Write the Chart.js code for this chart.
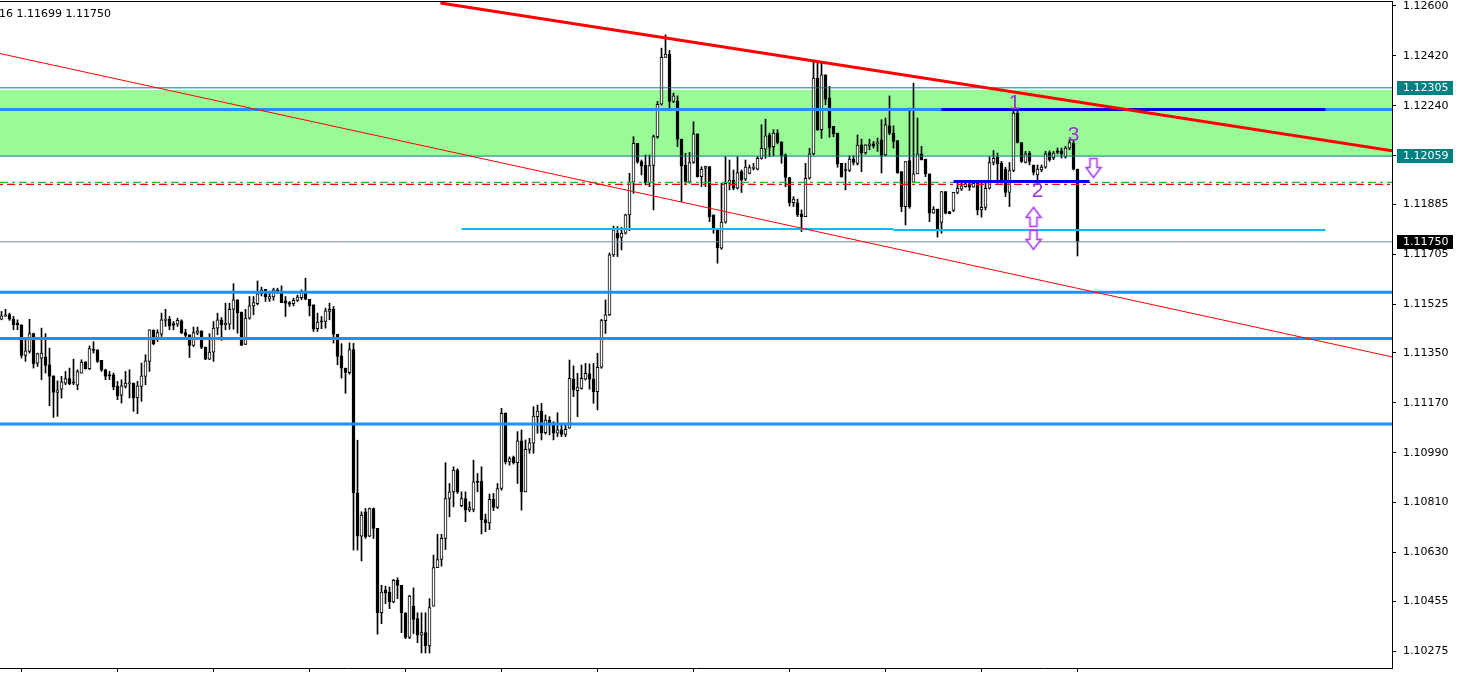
<!DOCTYPE html>
<html><head><meta charset="utf-8">
<script src="https://cdn.jsdelivr.net/npm/chart.js@4.4.1/dist/chart.umd.min.js"></script>
<style>html,body{margin:0;padding:0;background:#fff;overflow:hidden}canvas{display:block}</style>
</head><body>
<canvas id="c" width="1458" height="673"></canvas>
<script>
// ---------- DATA ----------
const headerText = '16 1.11699 1.11750';
const opens = [1.11471,1.11482,1.11488,1.11471,1.11457,1.11451,1.11341,1.11355,1.11419,1.11313,1.11331,1.11335,1.11307,1.11267,1.11207,1.11219,1.11241,1.11257,1.11245,1.11233,1.11277,1.11317,1.11293,1.11363,1.11361,1.11323,1.11289,1.11271,1.11271,1.11229,1.11197,1.11229,1.11239,1.11241,1.11187,1.11229,1.11265,1.11319,1.11431,1.11397,1.11417,1.11467,1.11471,1.11455,1.11453,1.11465,1.11423,1.11415,1.11377,1.11421,1.11429,1.11371,1.11327,1.11352,1.11439,1.11469,1.11451,1.11453,1.11507,1.11541,1.11497,1.11380,1.11475,1.11519,1.11527,1.11563,1.11579,1.11543,1.11551,1.11577,1.11570,1.11537,1.11531,1.11527,1.11539,1.11549,1.11569,1.11543,1.11523,1.11437,1.11465,1.11463,1.11499,1.11507,1.11417,1.11339,1.11295,1.11278,1.11362,1.10845,1.10689,1.10777,1.10689,1.10789,1.10717,1.10413,1.10494,1.10488,1.10452,1.10530,1.10512,1.10413,1.10324,1.10437,1.10392,1.10332,1.10342,1.10294,1.10437,1.10576,1.10605,1.10681,1.10825,1.10849,1.10927,1.10799,1.10825,1.10784,1.10786,1.10888,1.10888,1.10749,1.10737,1.10822,1.10793,1.10861,1.11132,1.10957,1.10973,1.10954,1.11033,1.10849,1.11002,1.11024,1.11120,1.11140,1.11062,1.11108,1.11096,1.11060,1.11072,1.11056,1.11078,1.11255,1.11214,1.11222,1.11255,1.11274,1.11255,1.11210,1.11298,1.11466,1.11487,1.11703,1.11781,1.11766,1.11781,1.11847,1.11965,1.12105,1.12039,1.12027,1.11963,1.12025,1.12129,1.12246,1.12415,1.12427,1.12256,1.12256,1.12120,1.12027,1.11965,1.12036,1.12139,1.11985,1.12015,1.12021,1.11847,1.11795,1.11727,1.11821,1.11961,1.11973,1.11943,1.12003,1.11976,1.11997,1.12015,1.12012,1.12051,1.12084,1.12135,1.12093,1.12142,1.12110,1.12062,1.11982,1.11891,1.11891,1.11849,1.11841,1.11979,1.12067,1.12340,1.12154,1.12352,1.12268,1.12166,1.12142,1.12033,1.12009,1.12007,1.12048,1.12033,1.12100,1.12070,1.12096,1.12103,1.12103,1.12118,1.12063,1.12168,1.12142,1.12115,1.12003,1.11877,1.12043,1.11964,1.11995,1.12067,1.12048,1.11995,1.11853,1.11868,1.11820,1.11931,1.11859,1.11863,1.11928,1.11940,1.11949,1.11959,1.11947,1.11961,1.11865,1.11874,1.11943,1.12036,1.12055,1.12034,1.12012,1.11928,1.12007,1.12214,1.12108,1.12036,1.12070,1.12027,1.11991,1.12009,1.12019,1.12072,1.12052,1.12078,1.12078,1.12055,1.12088,1.12106,1.12012];
const highs = [1.11499,1.11507,1.11493,1.11481,1.11469,1.11451,1.11397,1.11471,1.11421,1.11349,1.11439,1.11419,1.11367,1.11267,1.11249,1.11265,1.11283,1.11295,1.11327,1.11289,1.11325,1.11319,1.11375,1.11390,1.11361,1.11323,1.11291,1.11283,1.11277,1.11247,1.11253,1.11283,1.11289,1.11241,1.11247,1.11313,1.11343,1.11433,1.11433,1.11433,1.11493,1.11507,1.11481,1.11463,1.11475,1.11469,1.11435,1.11415,1.11443,1.11443,1.11429,1.11371,1.11419,1.11463,1.11493,1.11477,1.11529,1.11529,1.11599,1.11541,1.11497,1.11507,1.11553,1.11553,1.11609,1.11587,1.11579,1.11571,1.11583,1.11583,1.11591,1.11553,1.11535,1.11547,1.11558,1.11577,1.11619,1.11543,1.11523,1.11493,1.11481,1.11511,1.11529,1.11517,1.11417,1.11383,1.11295,1.11386,1.11384,1.11035,1.10777,1.10789,1.10791,1.10791,1.10717,1.10512,1.10509,1.10506,1.10533,1.10539,1.10512,1.10413,1.10476,1.10503,1.10413,1.10413,1.10413,1.10464,1.10621,1.10696,1.10696,1.10954,1.10879,1.10939,1.10932,1.10849,1.10849,1.10813,1.10963,1.10915,1.10939,1.10769,1.10841,1.10843,1.10879,1.11150,1.11134,1.10975,1.10978,1.11066,1.11072,1.11036,1.11042,1.11156,1.11162,1.11168,1.11126,1.11120,1.11102,1.11134,1.11096,1.11096,1.11324,1.11303,1.11276,1.11306,1.11312,1.11310,1.11312,1.11348,1.11471,1.11541,1.11710,1.11807,1.11805,1.11802,1.11850,1.11997,1.12129,1.12105,1.12045,1.12063,1.12063,1.12135,1.12256,1.12448,1.12496,1.12440,1.12286,1.12276,1.12120,1.12069,1.12072,1.12183,1.12139,1.12021,1.12023,1.12021,1.11847,1.11795,1.11961,1.12057,1.12045,1.12009,1.12057,1.12009,1.12045,1.12027,1.12033,1.12057,1.12172,1.12192,1.12142,1.12154,1.12154,1.12110,1.12067,1.11982,1.11913,1.11904,1.11865,1.12033,1.12087,1.12400,1.12400,1.12400,1.12352,1.12310,1.12166,1.12142,1.12033,1.12033,1.12060,1.12060,1.12135,1.12120,1.12100,1.12120,1.12112,1.12124,1.12190,1.12196,1.12276,1.12168,1.12115,1.12003,1.12039,1.12232,1.12322,1.12196,1.12094,1.12048,1.11995,1.11877,1.11868,1.11931,1.11931,1.11859,1.11928,1.11967,1.11967,1.11964,1.11964,1.11967,1.11961,1.11961,1.11961,1.12057,1.12079,1.12070,1.12040,1.12019,1.12036,1.12226,1.12228,1.12108,1.12076,1.12076,1.12027,1.12027,1.12027,1.12076,1.12078,1.12076,1.12088,1.12088,1.12094,1.12118,1.12118,1.12012];
const lows = [1.11469,1.11481,1.11467,1.11433,1.11433,1.11331,1.11319,1.11349,1.11295,1.11301,1.11253,1.11277,1.11159,1.11117,1.11121,1.11187,1.11235,1.11235,1.11235,1.11217,1.11277,1.11291,1.11289,1.11349,1.11315,1.11283,1.11253,1.11253,1.11217,1.11181,1.11169,1.11223,1.11187,1.11139,1.11131,1.11175,1.11235,1.11283,1.11379,1.11391,1.11409,1.11445,1.11433,1.11433,1.11445,1.11419,1.11401,1.11333,1.11373,1.11415,1.11365,1.11325,1.11325,1.11319,1.11415,1.11395,1.11433,1.11435,1.11435,1.11421,1.11377,1.11380,1.11471,1.11487,1.11523,1.11555,1.11535,1.11535,1.11539,1.11563,1.11531,1.11481,1.11517,1.11519,1.11535,1.11541,1.11541,1.11483,1.11427,1.11427,1.11437,1.11439,1.11469,1.11385,1.11307,1.11259,1.11204,1.11273,1.10639,1.10639,1.10600,1.10681,1.10687,1.10681,1.10336,1.10374,1.10446,1.10428,1.10449,1.10464,1.10341,1.10320,1.10320,1.10338,1.10305,1.10268,1.10268,1.10268,1.10437,1.10576,1.10581,1.10641,1.10759,1.10795,1.10843,1.10795,1.10741,1.10777,1.10777,1.10849,1.10697,1.10705,1.10713,1.10781,1.10789,1.10855,1.10949,1.10945,1.10949,1.10879,1.10783,1.10849,1.10988,1.10988,1.11060,1.11036,1.11057,1.11054,1.11036,1.11048,1.11048,1.11048,1.11078,1.11192,1.11120,1.11219,1.11252,1.11219,1.11168,1.11144,1.11294,1.11420,1.11484,1.11697,1.11697,1.11721,1.11778,1.11790,1.11925,1.12033,1.11991,1.11955,1.11949,1.11865,1.12123,1.12243,1.12415,1.12231,1.12252,1.12093,1.11895,1.11961,1.11961,1.12033,1.11983,1.11949,1.11949,1.11823,1.11781,1.11673,1.11723,1.11817,1.11937,1.11937,1.11940,1.11928,1.11971,1.11995,1.12009,1.12009,1.12048,1.12051,1.12057,1.12060,1.12103,1.12033,1.11949,1.11879,1.11877,1.11841,1.11787,1.11841,1.11976,1.12063,1.12151,1.12123,1.12244,1.12127,1.12129,1.12019,1.11983,1.11937,1.12003,1.12027,1.12027,1.12003,1.12066,1.12082,1.12088,1.12076,1.11998,1.12060,1.12136,1.12088,1.11997,1.11859,1.11811,1.11871,1.11964,1.11995,1.12045,1.11985,1.11823,1.11853,1.11767,1.11781,1.11851,1.11851,1.11859,1.11923,1.11935,1.11947,1.11935,1.11947,1.11847,1.11839,1.11865,1.11940,1.12027,1.11961,1.11961,1.11913,1.11877,1.12003,1.12106,1.12036,1.12034,1.12027,1.11991,1.11973,1.12003,1.12015,1.12040,1.12046,1.12067,1.12052,1.12052,1.12082,1.12009,1.11699];
const closes = [1.11483,1.11487,1.11471,1.11451,1.11451,1.11341,1.11357,1.11419,1.11311,1.11347,1.11349,1.11305,1.11265,1.11207,1.11217,1.11245,1.11257,1.11239,1.11241,1.11282,1.11317,1.11293,1.11365,1.11359,1.11319,1.11287,1.11265,1.11267,1.11227,1.11195,1.11231,1.11241,1.11241,1.11187,1.11231,1.11267,1.11321,1.11433,1.11383,1.11423,1.11469,1.11471,1.11447,1.11449,1.11467,1.11423,1.11413,1.11377,1.11423,1.11429,1.11369,1.11327,1.11353,1.11439,1.11469,1.11451,1.11457,1.11507,1.11541,1.11495,1.11377,1.11475,1.11519,1.11531,1.11563,1.11577,1.11551,1.11553,1.11577,1.11567,1.11531,1.11529,1.11524,1.11539,1.11551,1.11569,1.11543,1.11519,1.11435,1.11461,1.11461,1.11501,1.11507,1.11417,1.11337,1.11295,1.11279,1.11362,1.10845,1.10689,1.10765,1.10687,1.10789,1.10717,1.10413,1.10488,1.10485,1.10452,1.10530,1.10512,1.10413,1.10324,1.10473,1.10389,1.10332,1.10342,1.10294,1.10432,1.10576,1.10605,1.10681,1.10825,1.10849,1.10927,1.10849,1.10825,1.10783,1.10792,1.10885,1.10883,1.10749,1.10737,1.10822,1.10793,1.10861,1.11132,1.10957,1.10969,1.10954,1.11033,1.10849,1.11002,1.11026,1.11122,1.11140,1.11062,1.11108,1.11093,1.11060,1.11072,1.11056,1.11074,1.11258,1.11216,1.11225,1.11258,1.11276,1.11255,1.11210,1.11298,1.11466,1.11487,1.11703,1.11793,1.11763,1.11781,1.11847,1.11965,1.12105,1.12039,1.12023,1.11963,1.12025,1.12129,1.12246,1.12415,1.12427,1.12256,1.12276,1.12120,1.12023,1.11965,1.12036,1.12139,1.11985,1.12011,1.12021,1.11841,1.11795,1.11729,1.11821,1.11961,1.11973,1.11943,1.12000,1.11973,1.12019,1.12018,1.12019,1.12051,1.12087,1.12132,1.12090,1.12142,1.12108,1.12060,1.11982,1.11891,1.11904,1.11847,1.11841,1.11979,1.12067,1.12340,1.12154,1.12352,1.12264,1.12160,1.12139,1.12031,1.11985,1.12007,1.12048,1.12036,1.12099,1.12070,1.12100,1.12103,1.12096,1.12108,1.12060,1.12172,1.12142,1.12112,1.11998,1.11877,1.12039,1.11877,1.11995,1.12067,1.12045,1.11995,1.11853,1.11868,1.11791,1.11931,1.11853,1.11851,1.11928,1.11943,1.11952,1.11959,1.11947,1.11961,1.11865,1.11874,1.11943,1.12036,1.12051,1.12031,1.11967,1.11928,1.12007,1.12214,1.12108,1.12040,1.12067,1.12040,1.12000,1.12012,1.12019,1.12067,1.12046,1.12070,1.12072,1.12067,1.12088,1.12108,1.12012,1.11750];

// price-axis ticks
const yTickLabels = ['1.12600','1.12420','1.12240','1.12060','1.11885','1.11705','1.11525','1.11350','1.11170','1.10990','1.10810','1.10630','1.10455','1.10275'];
// day separators (bar index)
const xTickIndex = [5,29,53,77,101,125,149,173,197,221,245,269];

// chart objects (prices)
const zoneTop = 1.12297, zoneBottom = 1.12059;
const tealLevels = [1.12305, 1.12059];
const dodgerLevels = [1.12227, 1.11568, 1.11402, 1.11093];
const bidPrice = 1.11750;
const greenDashLevel = 1.11964, redDashLevel = 1.11957;
const level1 = {from:235, to:331, price:1.12227};
const level2 = {from:238, to:272, price:1.11967};
const skyLine = [{from:115,to:223,price:1.11796},{from:223,to:331,price:1.11793}];
const trendThick = [{x:109.75,y:1.12611},{x:347.75,y:1.12078}];
const trendThin = [{x:-0.5,y:1.12429},{x:347.75,y:1.11335}];
const priceTags = [{price:1.12305,bg:'#008080'},{price:1.12059,bg:'#008080'},{price:1.11750,bg:'#000000'}];
const markText = ['1','2','3'];
const markX = [253.25, 259, 268];
const markY = [1.12250, 1.11931, 1.12133];
const arrowX = [273, 258, 258];
const arrowY = [1.12016, 1.11840, 1.11757];
const arrowDir = ['down','up','down'];

// ---------- CHART ----------
const xMin = -0.375, xMax = 347.625;
const yMin = 1.10214, yMax = 1.12618;

function arrowImg(dir){
  const c = document.createElement('canvas'); c.width = 18; c.height = 22;
  const g = c.getContext('2d');
  g.beginPath();
  if(dir==='down'){
    g.moveTo(5.5,1.5); g.lineTo(12.5,1.5); g.lineTo(12.5,10.5); g.lineTo(16.5,10.5);
    g.lineTo(9,20.5); g.lineTo(1.5,10.5); g.lineTo(5.5,10.5); g.closePath();
  } else {
    g.moveTo(9,1.5); g.lineTo(16.5,11.5); g.lineTo(12.5,11.5); g.lineTo(12.5,20.5);
    g.lineTo(5.5,20.5); g.lineTo(5.5,11.5); g.lineTo(1.5,11.5); g.closePath();
  }
  g.fillStyle = '#ffffff'; g.fill();
  g.strokeStyle = '#A63CEB'; g.lineWidth = 1.6; g.stroke();
  return c;
}

const idx = opens.map((_, i) => i);
const wickData = idx.map(i => ({x:i, y:[lows[i], highs[i]]}));
const bodyData = idx.map(i => ({x:i, y:[opens[i], closes[i]]}));

function hline(price, from, to, color, width, dash, order){
  return {type:'line', data:[{x:from,y:price},{x:to,y:price}], borderColor:color, borderWidth:width,
    borderDash:dash||[], pointRadius:0, fill:false, tension:0, order:order||10};
}

const datasets = [
  {type:'line', data:[{x:xMin,y:zoneTop},{x:xMax,y:zoneTop}], fill:{value:zoneBottom},
   backgroundColor:'#98FB98', borderWidth:0, pointRadius:0, order:100},
  {type:'bar', data:wickData, backgroundColor:'#000', barThickness:1, grouped:false, order:60},
  {type:'bar', data:bodyData, grouped:false, order:50, barThickness:3, borderWidth:1, borderColor:'#000',
   borderSkipped:false, minBarLength:1,
   backgroundColor: ctx => { const i = ctx.dataIndex; return closes[i] >= opens[i] ? '#ffffff' : '#000000'; }},
  hline(tealLevels[0], xMin, xMax, '#008080', 1),
  hline(tealLevels[1], xMin, xMax, '#008080', 1),
  hline(greenDashLevel, xMin, xMax, '#22C022', 1.3, [8,4,3,4]),
  hline(redDashLevel, xMin, xMax, '#FF0000', 1.3, [3,4,8,4]),
  ...dodgerLevels.map(p => hline(p, xMin, xMax, '#1E90FF', 3)),
  hline(bidPrice, xMin, xMax, '#778899', 1),
  ...skyLine.map(s => hline(s.price, s.from, s.to, '#00BFFF', 2)),
  hline(level1.price, level1.from, level1.to, '#0000EE', 3, null, 9),
  hline(level2.price, level2.from, level2.to, '#0000EE', 3, null, 9),
  {type:'line', data:trendThin, borderColor:'#FF0000', borderWidth:1, pointRadius:0, fill:false, order:8},
  {type:'line', data:trendThick, borderColor:'#FF0000', borderWidth:3, pointRadius:0, fill:false, order:8},
  {type:'scatter', data:arrowX.map((x,k)=>({x:x, y:arrowY[k]})),
   pointStyle: arrowDir.map(d => arrowImg(d)), order:5}
];

const overlay = {
  id:'overlay',
  afterDatasetsDraw(chart){
    const {ctx, scales:{x, y}} = chart;
    ctx.save();
    ctx.fillStyle = '#9A30D6';
    ctx.font = '21px "Liberation Sans", Arial, sans-serif';
    ctx.textAlign = 'center'; ctx.textBaseline = 'middle';
    markText.forEach((t,k) => ctx.fillText(t, x.getPixelForValue(markX[k]), y.getPixelForValue(markY[k])));
    ctx.restore();
  },
  afterDraw(chart){
    const {ctx, chartArea:a, scales:{y}} = chart;
    ctx.save();
    ctx.strokeStyle = '#000'; ctx.lineWidth = 1;
    ctx.beginPath(); ctx.moveTo(0, a.top + 0.5); ctx.lineTo(a.right, a.top + 0.5); ctx.stroke();
    ctx.font = '11px "DejaVu Sans", sans-serif';
    ctx.textAlign = 'left'; ctx.textBaseline = 'middle';
    priceTags.forEach(t => {
      const py = Math.round(y.getPixelForValue(t.price));
      ctx.fillStyle = t.bg;
      ctx.fillRect(a.right + 5, py - 7, 56, 14);
      ctx.fillStyle = '#fff';
      ctx.fillText(t.price.toFixed(5), a.right + 11, py + 0.5);
    });
    ctx.fillStyle = '#000';
    ctx.textBaseline = 'alphabetic';
    ctx.fillText(headerText, -1, 17);
    ctx.restore();
  }
};

Chart.defaults.font.family = '"DejaVu Sans", sans-serif';
Chart.defaults.font.size = 11;
Chart.defaults.color = '#000';

new Chart(document.getElementById('c'), {
  type:'bar',
  data:{datasets},
  options:{
    responsive:false, animation:false, devicePixelRatio:1,
    layout:{autoPadding:false, padding:{top:1, left:0, right:0, bottom:0}},
    plugins:{legend:{display:false}, tooltip:{enabled:false}, filler:{drawTime:'beforeDatasetsDraw'}},
    scales:{
      x:{type:'linear', min:xMin, max:xMax, offset:false, bounds:'data',
         grid:{drawOnChartArea:false, drawTicks:true, tickLength:4, color:'#000', offset:false},
         border:{display:true, color:'#000'},
         ticks:{display:false},
         afterBuildTicks: s => { s.ticks = xTickIndex.map(v => ({value:v})); },
         afterFit: s => { s.height = 5; s.paddingLeft = 0; s.paddingRight = 0; s.paddingTop = 0; s.paddingBottom = 0; }},
      y:{type:'linear', position:'right', min:yMin, max:yMax, bounds:'data',
         grid:{drawOnChartArea:false, drawTicks:true, tickLength:4, color:'#000'},
         border:{display:true, color:'#000'},
         ticks:{autoSkip:false, padding:7, color:'#000', callback:(v, i) => yTickLabels[i]},
         afterBuildTicks: s => { s.ticks = yTickLabels.map(t => ({value:parseFloat(t)})); },
         afterFit: s => { s.width = 66; s.paddingTop = 0; s.paddingBottom = 0; s.paddingLeft = 0; s.paddingRight = 0; }}
    }
  },
  plugins:[overlay]
});
</script>
</body></html>
